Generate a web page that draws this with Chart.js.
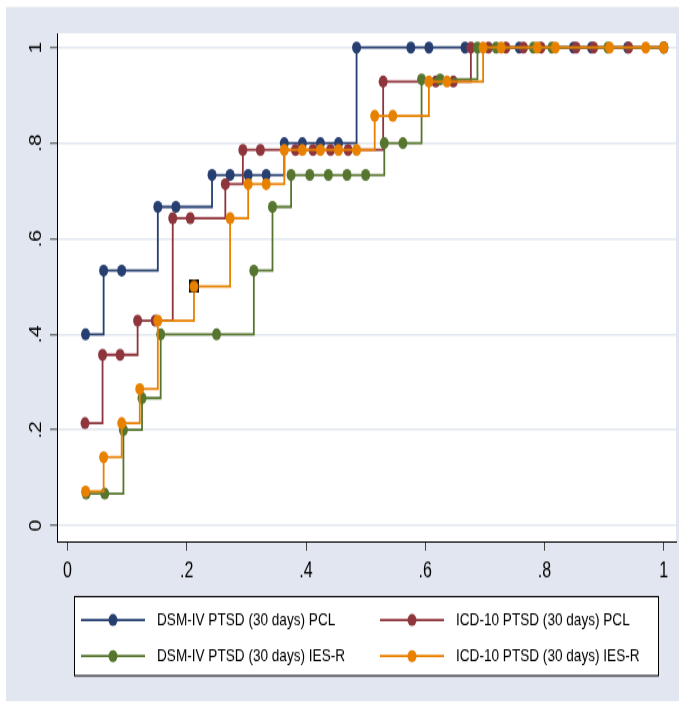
<!DOCTYPE html>
<html><head><meta charset="utf-8">
<script src="https://cdn.jsdelivr.net/npm/chart.js@4.4.1/dist/chart.umd.min.js"></script>
<style>
html,body{margin:0;padding:0;background:#fff;}
#wrap{width:683px;height:705px;position:relative;}
canvas{display:block;position:absolute;left:0;top:0;transform:scale(1,1.33019);transform-origin:0 0;}
</style>
</head><body>
<div id="wrap"><canvas id="c" width="683" height="530"></canvas></div>
<script>
// ---- data ----
const seriesLabels = ['DSM-IV PTSD (30 days) PCL','ICD-10 PTSD (30 days) PCL','DSM-IV PTSD (30 days) IES-R','ICD-10 PTSD (30 days) IES-R'];
const seriesColors = ['#263f70','#8f353c','#56762f','#e88000'];

const dsmPclX = [0.0303,0.0606,0.0909,0.1515,0.1818,0.2424,0.2727,0.3030,0.3333,0.3636,0.3939,0.4242,0.4545,0.4848,0.5758,0.6061,0.6667,0.7576,0.8485,0.8788,0.9394,1];
const dsmPclY = [0.4,0.5333,0.5333,0.6667,0.6667,0.7333,0.7333,0.7333,0.7333,0.8,0.8,0.8,0.8,1,1,1,1,1,1,1,1,1];

const icdPclX = [0.0294,0.0588,0.0882,0.1176,0.1471,0.1765,0.2059,0.2647,0.2941,0.3235,0.3824,0.4118,0.4412,0.4706,0.5294,0.6176,0.6471,0.6765,0.7059,0.7353,0.7647,0.7941,0.8529,0.8824,0.9412,1];
const icdPclY = [0.2143,0.3571,0.3571,0.4286,0.4286,0.6429,0.6429,0.7143,0.7857,0.7857,0.7857,0.7857,0.7857,0.7857,0.9286,0.9286,0.9286,1,1,1,1,1,1,1,1,1];

const dsmIesX = [0.0313,0.0625,0.0938,0.125,0.1563,0.25,0.3125,0.3438,0.375,0.4063,0.4375,0.4688,0.5,0.5313,0.5625,0.5938,0.625,0.6875,0.7188,0.7813,0.8125,0.9063,1];
const dsmIesY = [0.0667,0.0667,0.2,0.2667,0.4,0.4,0.5333,0.6667,0.7333,0.7333,0.7333,0.7333,0.7333,0.8,0.8,0.9333,0.9333,1,1,1,1,1,1];

const icdIesX = [0.0303,0.0606,0.0909,0.1212,0.1515,0.2121,0.2727,0.3030,0.3333,0.3636,0.3939,0.4242,0.4545,0.4848,0.5152,0.5455,0.6061,0.6364,0.6970,0.7273,0.7879,0.8182,0.9091,0.9697,1];
const icdIesY = [0.0714,0.1429,0.2143,0.2857,0.4286,0.5,0.6429,0.7143,0.7143,0.7857,0.7857,0.7857,0.7857,0.7857,0.8571,0.8571,0.9286,0.9286,1,1,1,1,1,1,1];
const icdIesBoxedIndex = 5;

const tickValues = [0,0.2,0.4,0.6,0.8,1];
const xTickLabels = ['0','.2','.4','.6','.8','1'];
const yTickLabels = ['0','.2','.4','.6','.8','1'];

// ---- styling helpers ----
const FONT = "'Liberation Sans',Arial,sans-serif";
function boxedImg(color){
  const c = document.createElement('canvas');
  c.width = 10; c.height = 10;
  const g = c.getContext('2d');
  g.fillStyle = '#111'; g.fillRect(0,0,10,10);
  g.fillStyle = color;
  g.beginPath(); g.arc(5,5,4.5,0,Math.PI*2); g.fill();
  return c;
}
const boxedMarker = boxedImg(seriesColors[3]);

function pts(xs, ys){ return xs.map((x,i)=>({x:x, y:ys[i]})); }
const seriesData = [pts(dsmPclX,dsmPclY), pts(icdPclX,icdPclY), pts(dsmIesX,dsmIesY), pts(icdIesX,icdIesY)];

const datasets = seriesData.map((d,i)=>({
  label: seriesLabels[i],
  data: d,
  borderColor: seriesColors[i],
  backgroundColor: seriesColors[i],
  borderWidth: 1.8,
  stepped: 'before',
  pointStyle: i===3 ? (ctx => ctx.dataIndex===icdIesBoxedIndex ? boxedMarker : 'circle') : 'circle',
  pointRadius: 4.5,
  pointBorderWidth: 0,
  order: 4 - i,
  fill: false
}));

const bgPlugin = {
  id: 'bg',
  beforeDraw(chart){
    const ctx = chart.ctx, a = chart.chartArea;
    ctx.save();
    ctx.fillStyle = '#ffffff'; ctx.fillRect(0,0,chart.width,chart.height);
    ctx.fillStyle = '#e1e6f0'; ctx.fillRect(6,5.3,673,521.7);
    ctx.fillStyle = '#ffffff'; ctx.fillRect(a.left,a.top,a.right-a.left,a.bottom-a.top);
    ctx.restore();
  }
};

const legendPlugin = {
  id: 'boxLegend',
  afterDraw(chart){
    const ctx = chart.ctx;
    ctx.save();
    ctx.fillStyle = '#ffffff'; ctx.fillRect(74,448,584,59.5);
    ctx.strokeStyle = '#000'; ctx.lineWidth = 1; ctx.strokeRect(74.5,448.5,584,59.5);
    const cols = [81,380], rows = [466.1,493.2];
    seriesLabels.forEach((lab,i)=>{
      const cx = cols[i%2], cy = rows[Math.floor(i/2)];
      ctx.strokeStyle = seriesColors[i]; ctx.lineWidth = 1.8;
      ctx.beginPath(); ctx.moveTo(cx,cy); ctx.lineTo(cx+64,cy); ctx.stroke();
      ctx.fillStyle = seriesColors[i];
      ctx.beginPath(); ctx.arc(cx+32,cy,4.5,0,Math.PI*2); ctx.fill();
      ctx.fillStyle = '#000'; ctx.font = '13.6px ' + FONT;
      ctx.textBaseline = 'middle'; ctx.textAlign = 'left';
      ctx.fillText(lab, cx+76, cy);
    });
    ctx.restore();
  }
};

Chart.defaults.font.family = FONT;
Chart.defaults.color = '#000';

new Chart(document.getElementById('c'), {
  type: 'line',
  data: { datasets },
  options: {
    responsive: false,
    animation: false,
    devicePixelRatio: 1,
    layout: { padding: { left: 0, right: 7, top: 25, bottom: 93 } },
    plugins: { legend: { display: false }, tooltip: { enabled: false } },
    scales: {
      x: {
        type: 'linear', min: -0.0176, max: 1.0205,
        afterBuildTicks: s => { s.ticks = tickValues.map(v=>({value:v})); },
        afterFit: s => { s.height = 30; },
        ticks: { font: { size: 16 }, color: '#000', padding: 6, maxRotation: 0, minRotation: 0,
                 callback: (v,i) => xTickLabels[i] },
        grid: { drawOnChartArea: false, tickLength: 7, tickColor: '#444', tickWidth: 1 },
        border: { display: true, color: '#000', width: 1 }
      },
      y: {
        type: 'linear', min: -0.0332, max: 1.0298,
        afterBuildTicks: s => { s.ticks = tickValues.map(v=>({value:v})); },
        afterFit: s => { s.width = 57; },
        ticks: { font: { size: 16 }, color: '#000', padding: 7, minRotation: 90, maxRotation: 90,
                 crossAlign: 'center', callback: (v,i) => yTickLabels[i] },
        grid: { color: '#e3e7f0', lineWidth: 1.5, tickLength: 7, tickColor: '#444', tickWidth: 1 },
        border: { display: true, color: '#000', width: 1 }
      }
    }
  },
  plugins: [bgPlugin, legendPlugin]
});
</script>
</body></html>
